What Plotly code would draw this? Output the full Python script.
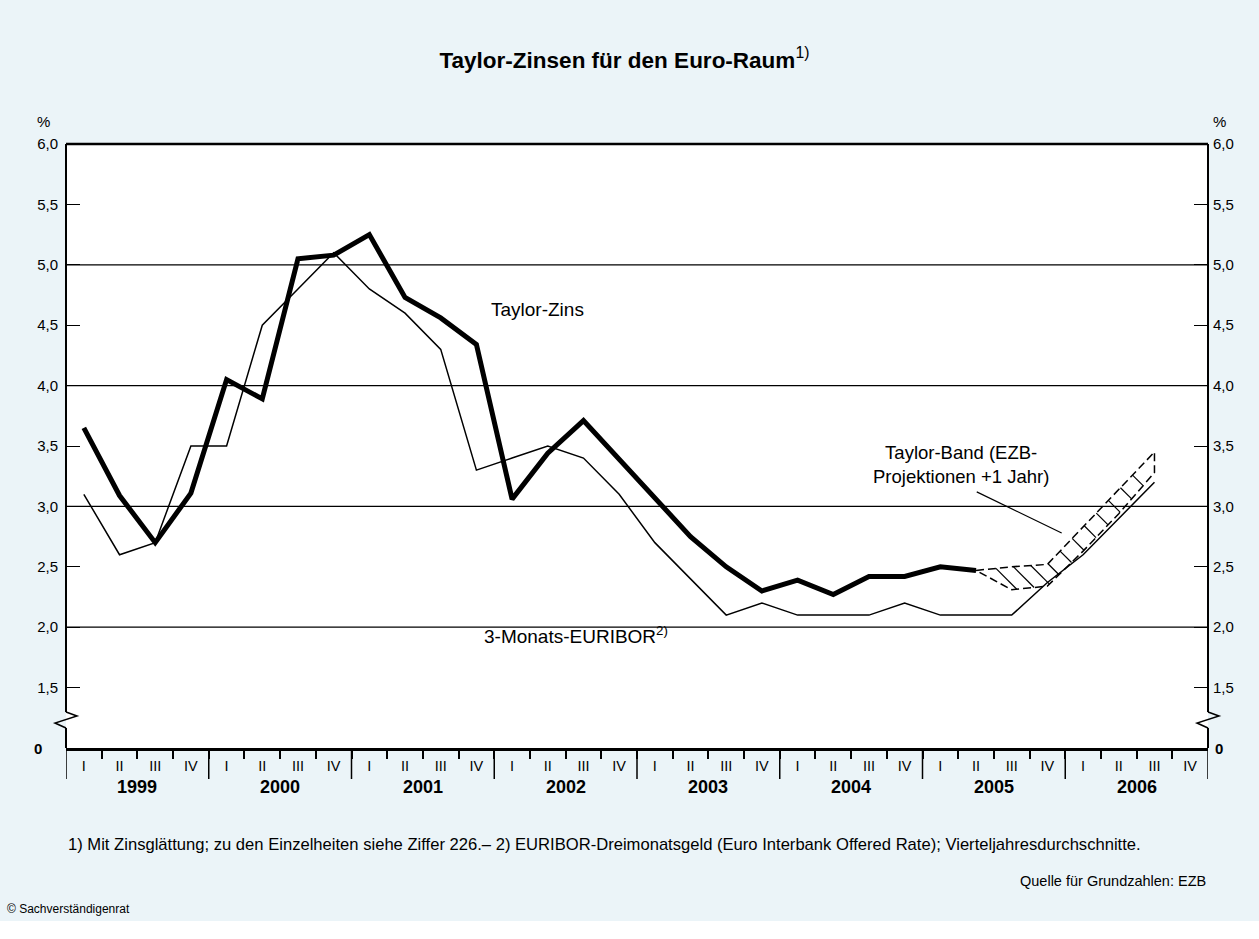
import numpy as np
import plotly.graph_objects as go

# ---------------- data ----------------
years = [1999, 2000, 2001, 2002, 2003, 2004, 2005, 2006]
quarter_names = ["I", "II", "III", "IV"]

y_tick_values = [1.0, 1.5, 2.0, 2.5, 3.0, 3.5, 4.0, 4.5, 5.0, 5.5, 6.0]
y_tick_labels = ["", "1,5", "2,0", "2,5", "3,0", "3,5", "4,0", "4,5", "5,0", "5,5", "6,0"]
y_break_label = "0"          # label of the axis origin (axis is broken below 1,5)
y_break_value = 1.0
grid_values = [2.0, 3.0, 4.0, 5.0]

# Taylor-Zins, 1999 Q1 .. 2005 Q2
taylor_zins = [3.65, 3.09, 2.70, 3.11,
               4.05, 3.89, 5.05, 5.08,
               5.25, 4.73, 4.56, 4.34,
               3.06, 3.44, 3.71, 3.39,
               3.07, 2.75, 2.50, 2.30,
               2.39, 2.27, 2.42, 2.42,
               2.50, 2.47]

# 3-Monats-EURIBOR, 1999 Q1 .. 2006 Q3
euribor = [3.10, 2.60, 2.70, 3.50,
           3.50, 4.50, 4.80, 5.10,
           4.80, 4.60, 4.30, 3.30,
           3.40, 3.50, 3.40, 3.10,
           2.70, 2.40, 2.10, 2.20,
           2.10, 2.10, 2.10, 2.20,
           2.10, 2.10, 2.10, 2.37,
           2.60, 2.90, 3.20]

# Taylor-Band (EZB-Projektionen +1 Jahr), 2005 Q2 .. 2006 Q3
band_start = 25
band_upper = [2.47, 2.50, 2.52, 2.83, 3.14, 3.45]
band_lower = [2.47, 2.31, 2.34, 2.63, 2.94, 3.28]

# ---------------- geometry helpers ----------------
n_quarters = len(years) * len(quarter_names)
FONT = "Liberation Sans, Arial, Helvetica, sans-serif"
BG = "#EBF4F8"
W, H = 1259, 939
plot_top, plot_bottom = 144, 748
plot_left, plot_right = 66, 1208
plot_h = plot_bottom - plot_top
plot_w = plot_right - plot_left
y_range = [1.0, 6.0]
x_range = [-0.5, n_quarters - 0.5]


def py(p):  # pixel y -> paper y
    return (plot_bottom - p) / plot_h


def px(p):  # pixel x -> paper x
    return (p - plot_left) / plot_w


def font(size):
    return dict(size=size, family=FONT, color="black")


# ---------- hatching of the Taylor band (derived from band arrays) ----------
qpx = plot_w / (x_range[1] - x_range[0])      # pixels per quarter
upx = plot_h / (y_range[1] - y_range[0])      # pixels per percentage point
band_x = list(range(band_start, band_start + len(band_upper)))
bx_px = np.array(band_x, float) * qpx
bu_px = np.array(band_upper) * upx
bl_px = np.array(band_lower) * upx

seg = np.hypot(np.diff(bx_px), np.diff(bu_px))
cum = np.concatenate([[0], np.cumsum(seg)])
hatch_x, hatch_y = [], []
for s in np.arange(20, cum[-1], 17.5):
    xp = np.interp(s, cum, bx_px)
    yp = np.interp(xp, bx_px, bu_px)
    ts = np.linspace(0, 40, 801)
    xs = xp + ts
    ok = xs <= bx_px[-1]
    diff = (yp - ts) - np.interp(xs, bx_px, bl_px)
    hit = np.where((diff <= 0) & ok)[0]
    if len(hit) == 0:
        continue
    t = ts[hit[0]]
    if t < 3:
        continue
    hatch_x += [xp / qpx, (xp + t) / qpx, None]
    hatch_y += [yp / upx, (yp - t) / upx, None]

fig = go.Figure()

fig.add_trace(go.Scatter(
    x=hatch_x, y=hatch_y, mode="lines", line=dict(color="black", width=1.2),
    hoverinfo="skip", showlegend=False))

fig.add_trace(go.Scatter(
    x=band_x + band_x[::-1] + [band_x[0]],
    y=band_upper + band_lower[::-1] + [band_upper[0]],
    mode="lines", line=dict(color="black", width=1.5, dash="8px,4px"),
    hoverinfo="skip", showlegend=False, name="Taylor-Band"))

fig.add_trace(go.Scatter(
    x=list(range(len(euribor))), y=euribor, mode="lines",
    line=dict(color="black", width=1.5), showlegend=False, name="3-Monats-EURIBOR"))

fig.add_trace(go.Scatter(
    x=list(range(len(taylor_zins))), y=taylor_zins, mode="lines",
    line=dict(color="black", width=5), showlegend=False, name="Taylor-Zins"))

# invisible trace so that the right-hand axis is drawn
fig.add_trace(go.Scatter(
    x=list(range(len(euribor))), y=euribor, mode="lines", yaxis="y2",
    line=dict(color="rgba(0,0,0,0)", width=0), hoverinfo="skip", showlegend=False))

shapes = []
# white strip at the very bottom of the page
shapes.append(dict(type="rect", xref="paper", yref="paper", x0=px(-10), x1=px(W + 10),
                   y0=py(H + 10), y1=py(921), fillcolor="white", line=dict(width=0),
                   layer="below"))
# grid lines
for g in grid_values:
    shapes.append(dict(type="line", xref="paper", yref="y", x0=0, x1=1, y0=g, y1=g,
                       line=dict(color="black", width=1.2), layer="below"))
# top frame
shapes.append(dict(type="line", xref="paper", yref="paper", x0=0, x1=1, y0=1, y1=1,
                   line=dict(color="black", width=2.5)))
# left / right axis lines with break symbol
brk_top, brk_bot = py(712), py(728)
dx = 11 / plot_w
for xe in (0, 1):
    shapes.append(dict(type="line", xref="paper", yref="paper", x0=xe, x1=xe, y0=1, y1=brk_top,
                       line=dict(color="black", width=2)))
    shapes.append(dict(type="line", xref="paper", yref="paper", x0=xe, x1=xe, y0=brk_bot, y1=0,
                       line=dict(color="black", width=2)))
    path = f"M {xe},{brk_top} L {xe + dx},{py(716)} L {xe - dx},{py(723)} L {xe},{brk_bot}"
    shapes.append(dict(type="path", xref="paper", yref="paper", path=path,
                       line=dict(color="black", width=1.5)))
# year separators (long ticks)
for k in range(len(years) + 1):
    xv = -0.5 + 4 * k
    shapes.append(dict(type="line", xref="x", yref="paper", x0=xv, x1=xv, y0=0, y1=py(779),
                       line=dict(color="black", width=1.5)))
# pointer for Taylor-Band label
shapes.append(dict(type="line", xref="x", yref="y", x0=25.02, y0=3.12, x1=27.4, y1=2.78,
                   line=dict(color="black", width=1.2)))

annotations = []
for k, yr in enumerate(years):
    annotations.append(dict(x=4 * k + 1.5, xref="x", y=py(787), yref="paper",
                            text=f"<b>{yr}</b>", showarrow=False, yanchor="middle",
                            font=font(18)))


def note(x, y, text, size, xref="paper", yref="paper", xanchor="center", **kw):
    return dict(x=x, y=y, xref=xref, yref=yref, text=text, showarrow=False,
                xanchor=xanchor, yanchor="middle", font=font(size), **kw)


annotations += [
    note(px(43), py(122), "%", 15),
    note(px(1219), py(122), "%", 15),
    note(px(38), y_break_value, f"<b>{y_break_label}</b>", 15, yref="y"),
    note(px(1219), y_break_value, f"<b>{y_break_label}</b>", 15, yref="y"),
    note(12.7, 4.63, "Taylor-Zins", 19, xref="x", yref="y"),
    note(13.8, 1.935, "3-Monats-EURIBOR<sup>2)</sup>", 19, xref="x", yref="y"),
    note(24.57, 3.35, "Taylor-Band (EZB-<br>Projektionen +1 Jahr)", 18.5, xref="x", yref="y",
         align="center"),
    note(0, py(845),
         "1) Mit Zinsglättung; zu den Einzelheiten siehe Ziffer 226.– 2) EURIBOR-Dreimonatsgeld "
         "(Euro Interbank Offered Rate); Vierteljahresdurchschnitte.", 16.6, xanchor="left"),
    note(1, py(881), "Quelle für Grundzahlen: EZB", 14.5, xanchor="right"),
    note(px(5), py(909), "© Sachverständigenrat", 12, xanchor="left"),
]

yaxis_common = dict(range=y_range, tickvals=y_tick_values, ticktext=y_tick_labels,
                    ticks="inside", ticklen=14, tickwidth=1.2, tickcolor="black",
                    showgrid=False, zeroline=False, showline=False, fixedrange=True,
                    tickfont=font(15))

fig.update_layout(
    width=W, height=H,
    margin=dict(l=plot_left, r=W - plot_right, t=plot_top, b=H - plot_bottom),
    paper_bgcolor=BG, plot_bgcolor="white",
    font=dict(family=FONT, color="black"),
    title=dict(text="<b>Taylor-Zinsen für den Euro-Raum</b><sup>1)</sup>",
               x=0.496, xref="container", xanchor="center", y=1 - 60 / H, yref="container",
               yanchor="middle", font=font(22.5)),
    xaxis=dict(range=x_range, tickvals=list(range(n_quarters)),
               ticktext=quarter_names * len(years), ticks="", showgrid=False, zeroline=False,
               showline=True, linewidth=3, linecolor="black", fixedrange=True,
               tickfont=font(14.5), ticklabelstandoff=3,
               minor=dict(tickvals=[i + 0.5 for i in range(n_quarters - 1)], ticks="outside",
                          ticklen=8, tickwidth=1.5, tickcolor="black", showgrid=False)),
    yaxis=dict(**yaxis_common, side="left", ticklabelstandoff=7),
    yaxis2=dict(**yaxis_common, side="right", overlaying="y", ticklabelstandoff=4),
    shapes=shapes, annotations=annotations, showlegend=False,
)

fig.write_html("out.html", config={"displayModeBar": False},
               post_script="document.body.style.margin='0px';document.body.style.overflow='hidden';")
